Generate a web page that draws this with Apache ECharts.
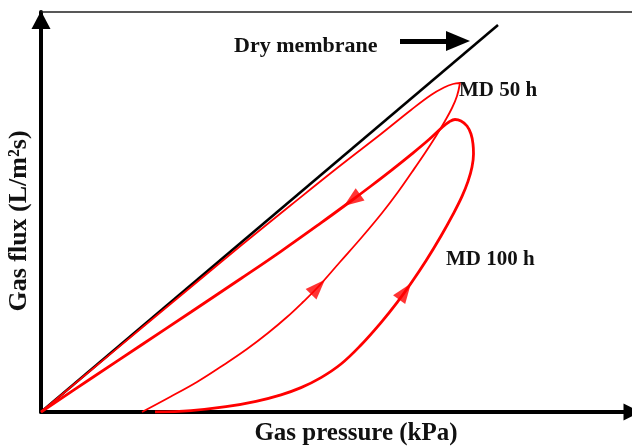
<!DOCTYPE html>
<html>
<head>
<meta charset="utf-8">
<script src="https://cdn.jsdelivr.net/npm/echarts@6/dist/echarts.min.js"></script>
<style>
html,body{margin:0;padding:0;background:#fff;}
#chart{width:632px;height:447px;}
</style>
</head>
<body>
<div id="chart"></div>
<script>
// Values (arbitrary units, no ticks in the original)
const xMax = 591;
const yMax = 400;
const xTitle = 'Gas pressure (kPa)';
const yTitle = 'Gas flux (L/m\u00B2s)';

const dryMembrane = [[0, 0], [457, 387]];

// MD 50 h: rising branch from breakthrough, then falling branch back to origin
const md50 = [[101,0],[129,15],[156,30],[181,46],[206,63],[227,79],[246,95],[262,110],[277,125],[299,150],[321,175],[341,199],[357,220],[371,240],[384,259],[395,276],[404,291],[411,304],[416,316],[419,329],
  [412,328],[403,324.5],[390,317],[370,302],[340,278],[300,247],[250,207],[200,166.5],[150,125],[100,83.5],[50,41.8],[0,0]];

// MD 100 h: rising branch, rounded top, falling branch back to origin
const md100 = [[114,0],[150,1.4],[185,5.3],[215,10.7],[240,17.2],[260,24.4],[280,34.4],[300,48],[320,67],[340,89.4],[356,109.4],[370,128.7],[385,151.2],[400,176],[412,197.6],[421,215.6],[427,230.6],[431,245],[432.5,258],[432,268],[430,278],[426,286],[420,291],[414,292.5],[408,290],[401,284.5],
  [388,272.5],[370,257.4],[350,241.4],[330,226],[310,211],[280,189.1],[240,160.7],[200,133.5],[150,100],[100,66.75],[50,33.5],[0,0]];

// direction arrows on the curves: [x, y, rotation]
const curveArrows = [[277, 125, -44], [364, 120.5, -36], [311, 211.8, 126]];
// "Dry membrane" pointer arrow
const pointerArrow = [[359, 371], [417, 371]];

const labels = ['Dry membrane', 'MD 50 h', 'MD 100 h'];

const RED = '#ff0000';
const FONT = 'Liberation Serif';

const chart = echarts.init(document.getElementById('chart'), null, {renderer: 'canvas'});
chart.setOption({
  animation: false,
  backgroundColor: '#fff',
  grid: {left: 41, right: 0, top: 12, bottom: 35, containLabel: false, outerBoundsMode: 'none'},
  xAxis: [{
    type: 'value', min: 0, max: xMax,
    name: xTitle, nameLocation: 'middle', nameGap: 9,
    nameTextStyle: {fontFamily: FONT, fontWeight: 'bold', fontSize: 25, color: '#111', padding: [0, 0, 0, 39]},
    axisLine: {show: true, onZero: false, symbol: ['none', 'triangle'], symbolSize: [17, 17],
      lineStyle: {color: '#000', width: 4}},
    axisTick: {show: false}, axisLabel: {show: false}, splitLine: {show: false}
  }, {
    type: 'value', min: 0, max: xMax, position: 'top',
    axisLine: {show: true, onZero: false, lineStyle: {color: '#222', width: 1.5}},
    axisTick: {show: false}, axisLabel: {show: false}, splitLine: {show: false}
  }],
  yAxis: {
    type: 'value', min: 0, max: yMax,
    name: yTitle, nameLocation: 'middle', nameGap: 9,
    nameTextStyle: {fontFamily: FONT, fontWeight: 'bold', fontSize: 26, color: '#111', padding: [0, 18, 0, 0]},
    axisLine: {show: true, onZero: false, symbol: ['none', 'triangle'], symbolSize: [19, 18], symbolOffset: [0, -8],
      lineStyle: {color: '#000', width: 4}},
    axisTick: {show: false}, axisLabel: {show: false}, splitLine: {show: false}
  },
  series: [
    {
      name: 'Dry membrane', type: 'line', data: dryMembrane, showSymbol: false, symbol: 'none',
      lineStyle: {color: '#000', width: 2.6},
      markLine: {
        silent: true, symbol: ['none', 'triangle'], symbolSize: [20, 24],
        label: {show: false},
        lineStyle: {color: '#000', width: 5, type: 'solid'},
        data: [[{coord: pointerArrow[0]}, {coord: pointerArrow[1]}]]
      }
    },
    {
      name: 'MD 50 h', type: 'line', data: md50, showSymbol: false, symbol: 'none', smooth: 0.4,
      lineStyle: {color: RED, width: 1.8}
    },
    {
      name: 'MD 100 h', type: 'line', data: md100, showSymbol: false, symbol: 'none', smooth: 0.4,
      lineStyle: {color: RED, width: 2.8}
    },
    {
      name: 'arrows', type: 'scatter', symbol: 'triangle', symbolSize: [15, 20],
      itemStyle: {color: RED},
      data: curveArrows.map(a => ({value: [a[0], a[1]], symbolRotate: a[2]}))
    }
  ],
  graphic: [
    {type: 'text', left: 234, top: 35, style: {text: labels[0], font: 'bold 22px "Liberation Serif"', fill: '#111'}},
    {type: 'text', left: 459, top: 80, style: {text: labels[1], font: 'bold 21px "Liberation Serif"', fill: '#111'}},
    {type: 'text', left: 446, top: 249, style: {text: labels[2], font: 'bold 21px "Liberation Serif"', fill: '#111'}}
  ]
});
</script>
</body>
</html>
